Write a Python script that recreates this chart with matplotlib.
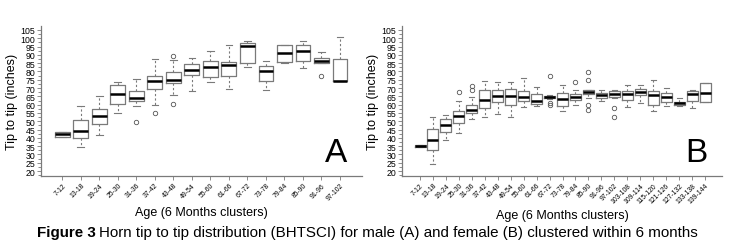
import matplotlib
matplotlib.use("Agg")
import matplotlib.pyplot as plt
from matplotlib.ticker import MultipleLocator

plt.rcParams["font.family"] = ["Liberation Sans", "DejaVu Sans"]

# ==============================
# DATA
# ==============================
labels_a = ["7-12", "13-18", "19-24", "25-30", "31-36", "37-42", "43-48", "49-54",
            "55-60", "61-66", "67-72", "73-78", "79-84", "85-90", "91-96", "97-102"]
lo_a = [40.4, 34.3, 41.6, 55.2, 59.0, 59.8, 65.7, 68.3, 73.7, 69.5, 82.5, 69.0, 85.0, 82.1, 85.0, 74.3]
q1_a = [40.4, 39.7, 48.2, 60.4, 62.2, 69.3, 73.3, 77.7, 76.5, 77.5, 85.3, 74.5, 85.5, 86.1, 85.1, 74.3]
med_a = [42.2, 44.4, 53.2, 66.6, 64.2, 74.3, 74.9, 81.1, 82.5, 83.7, 95.6, 80.1, 91.0, 92.3, 86.3, 74.3]
q3_a = [43.7, 50.6, 57.4, 71.7, 68.1, 77.1, 79.5, 84.3, 86.5, 85.9, 97.2, 83.3, 95.8, 96.2, 88.3, 87.5]
hi_a = [43.7, 59.0, 65.0, 73.7, 75.7, 87.3, 87.1, 88.0, 92.3, 96.0, 98.2, 86.3, 95.8, 98.2, 92.0, 101.0]
out_a = [[], [], [], [], [49.4], [55.0], [89.5, 60.4], [], [], [], [], [], [], [], [77.5], []]

labels_b = ["7-12", "13-18", "19-24", "25-30", "31-36", "37-42", "43-48", "49-54",
            "55-60", "61-66", "67-72", "73-78", "79-84", "85-90", "91-96", "97-102",
            "103-108", "109-114", "115-120", "121-126", "127-132", "133-138", "139-144"]
lo_b = [34.5, 24.3, 38.7, 42.8, 51.4, 52.8, 54.2, 52.4, 58.4, 59.0, 63.4, 56.0,
        59.8, 64.0, 62.4, 64.0, 58.4, 60.8, 56.4, 59.0, 59.0, 57.8, 61.4]
q1_b = [34.5, 32.7, 43.4, 49.2, 54.8, 58.2, 61.8, 59.6, 62.2, 60.4, 64.0, 59.4,
        62.6, 66.6, 63.8, 64.8, 63.0, 65.8, 59.8, 61.4, 60.0, 62.2, 61.4]
med_b = [35.0, 38.7, 48.0, 53.2, 57.0, 62.6, 65.1, 65.1, 64.4, 62.1, 64.6, 63.3,
         64.6, 67.7, 65.8, 66.4, 66.4, 67.8, 65.7, 64.4, 60.8, 66.4, 67.2]
q3_b = [35.5, 45.4, 51.4, 56.4, 59.8, 68.9, 68.7, 69.3, 68.3, 66.6, 65.2, 66.9,
        66.6, 68.9, 67.2, 68.5, 68.3, 69.5, 68.5, 67.0, 61.8, 68.3, 72.9]
hi_b = [35.5, 52.4, 54.0, 62.2, 64.4, 74.5, 73.9, 73.9, 75.9, 70.5, 66.0, 71.9,
        68.9, 69.0, 68.9, 68.9, 72.1, 72.1, 75.0, 69.9, 64.0, 68.9, 72.9]
out_b = [[], [], [], [67.8], [71.4, 68.9], [], [], [], [], [], [77.1, 61.0, 60.0], [],
         [73.5], [79.5, 74.7, 59.8, 56.8], [], [58.0, 52.8], [], [], [], [], [], [], []]

yticks = list(range(20, 110, 5))


def make_stats(labels, lo, q1, med, q3, hi, out):
    stats = []
    for i in range(len(labels)):
        stats.append({"label": labels[i], "whislo": lo[i], "q1": q1[i], "med": med[i],
                      "q3": q3[i], "whishi": hi[i], "fliers": out[i]})
    return stats


def draw_panel(ax, stats, letter, xlim, width):
    gray = "#7a7a7a"
    ax.bxp(stats, positions=range(1, len(stats) + 1), widths=width,
           boxprops=dict(color=gray, linewidth=0.9),
           whiskerprops=dict(color=gray, linewidth=0.8, linestyle=(0, (2, 2))),
           capprops=dict(color=gray, linewidth=0.8),
           medianprops=dict(color="black", linewidth=1.8, solid_capstyle="butt"),
           flierprops=dict(marker="o", markersize=3.2, markerfacecolor="none",
                           markeredgecolor="#555555", markeredgewidth=0.6),
           capwidths=width * 0.45)
    ax.set_xlim(*xlim)
    ax.set_ylim(17.0, 107.4)
    ax.set_yticks(yticks)
    ax.set_yticklabels([str(t) for t in yticks], fontsize=6.3)
    ax.yaxis.set_minor_locator(MultipleLocator(2.5))
    ax.tick_params(axis="y", which="major", length=3, width=0.6, color=gray, pad=1)
    ax.tick_params(axis="y", which="minor", length=2, width=0.6, color=gray)
    ax.tick_params(axis="x", length=3, width=0.6, color=gray, pad=1)
    ax.set_xticklabels([s["label"] for s in stats], rotation=45, ha="right",
                       rotation_mode="anchor", fontsize=4.9)
    for side in ["top", "right"]:
        ax.spines[side].set_visible(False)
    for side in ["left", "bottom"]:
        ax.spines[side].set_color(gray)
        ax.spines[side].set_linewidth(0.9)
    ax.set_ylabel("Tip to tip (inches)", fontsize=9, labelpad=2)
    ax.set_xlabel("Age (6 Months clusters)", fontsize=9, labelpad=3)
    ax.text(0.955, 0.05, letter, transform=ax.transAxes, ha="right", va="bottom",
            fontsize=24)


fig = plt.figure(figsize=(7.32, 2.53), dpi=100)
ax1 = fig.add_axes([41 / 732, 1 - 177 / 253, 321 / 732, 150 / 253])
ax2 = fig.add_axes([402 / 732, 1 - 177 / 253, 320 / 732, 150 / 253])

draw_panel(ax1, make_stats(labels_a, lo_a, q1_a, med_a, q3_a, hi_a, out_a), "A",
           (-0.15, 17.19), 0.8)
draw_panel(ax2, make_stats(labels_b, lo_b, q1_b, med_b, q3_b, hi_b, out_b), "B",
           (-0.39, 24.31), 0.85)

# caption: bold "Figure 3" followed by normal text
cap_y = 1 - 233 / 253
t1 = fig.text(37 / 732, cap_y, "Figure 3", fontsize=10.9, fontweight="bold", va="center")
fig.canvas.draw()
bb = t1.get_window_extent()
fig.text((bb.x1 + 3) / 732, cap_y,
         "Horn tip to tip distribution (BHTSCI) for male (A) and female (B) clustered within 6 months",
         fontsize=10.9, va="center")

fig.savefig("out.png", dpi=100)
